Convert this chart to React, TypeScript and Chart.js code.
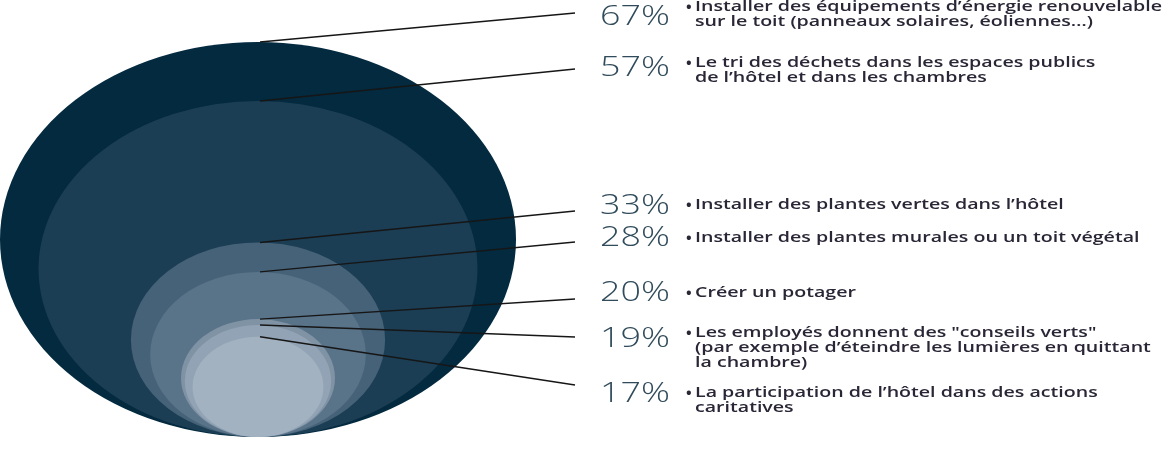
import React, { useEffect, useRef } from "react";
import { Chart, registerables } from "chart.js";

Chart.register(...registerables);

// ---- Data ----
const VALUES = [67, 57, 33, 28, 20, 19, 17];
const DESCRIPTIONS: string[][] = [
  ["Installer des équipements d’énergie renouvelable", "sur le toit (panneaux solaires, éoliennes…)"],
  ["Le tri des déchets dans les espaces publics", "de l’hôtel et dans les chambres"],
  ["Installer des plantes vertes dans l’hôtel"],
  ["Installer des plantes murales ou un toit végétal"],
  ["Créer un potager"],
  ["Les employés donnent des \"conseils verts\"", "(par exemple d’éteindre les lumières en quittant", "la chambre)"],
  ["La participation de l’hôtel dans des actions", "caritatives"],
];
const COLORS = ["#032a3f", "#1b3e55", "#466278", "#597389", "#7f93a5", "#91a3b4", "#a3b2c1"];

// ---- Label layout (pixels) ----
const PCT_BASELINE = [25, 76, 214, 246, 301, 347, 402];
const TEXT_BASELINE = [11, 67, 209, 242, 297, 337, 397];
const LEADER_END_Y = [13, 69, 211, 242, 299, 337, 385];
const LEADER_END_X = 575;
const PCT_X = 600;
const BULLET_X = 686;
const TEXT_X = 695;
const LINE_H = 15;

const nestedPlugin = {
  id: "nestedEllipses",
  beforeDatasetsDraw(chart: any) {
    const { ctx, scales } = chart;
    const xs = scales.x, ys = scales.y;
    const pts = chart.data.datasets[0].data as any[];
    ctx.save();
    pts.forEach((p, i) => {
      const cx = xs.getPixelForValue(p.x);
      const cy = ys.getPixelForValue(p.y);
      const rx = Math.abs(xs.getPixelForValue(p.x + p.v) - cx);
      const ry = Math.abs(ys.getPixelForValue(p.y + p.v) - cy);
      ctx.fillStyle = COLORS[i];
      ctx.beginPath();
      ctx.ellipse(cx, cy, rx, ry, 0, 0, Math.PI * 2);
      ctx.fill();
    });
    ctx.restore();
  },
  afterDatasetsDraw(chart: any) {
    const { ctx, scales } = chart;
    const xs = scales.x, ys = scales.y;
    const pts = chart.data.datasets[0].data as any[];
    ctx.save();
    // leader lines
    ctx.strokeStyle = "#161616";
    ctx.lineWidth = 1.4;
    pts.forEach((p, i) => {
      const sx = xs.getPixelForValue(p.x) + 2;
      const sy = ys.getPixelForValue(p.y + p.v);
      ctx.beginPath();
      ctx.moveTo(sx, sy);
      ctx.lineTo(LEADER_END_X, LEADER_END_Y[i]);
      ctx.stroke();
    });
    // percentages
    ctx.font = "300 27px 'Open Sans'";
    ctx.textBaseline = "alphabetic";
    ctx.fillStyle = "#304b5b";
    const pctStretch = 70 / ctx.measureText("67%").width;
    pts.forEach((p, i) => {
      ctx.save();
      ctx.translate(PCT_X, PCT_BASELINE[i]);
      ctx.scale(pctStretch, 1);
      ctx.fillText(p.v + "%", 0, 0);
      ctx.restore();
    });
    // descriptions
    ctx.fillStyle = "#2a2636";
    ctx.font = "700 15px 'Open Sans'";
    pts.forEach((p, i) => {
      ctx.fillText("•", BULLET_X, TEXT_BASELINE[i] + 1);
    });
    ctx.font = "600 15px 'Open Sans'";
    const descStretch = 467 / ctx.measureText(DESCRIPTIONS[0][0]).width;
    pts.forEach((p, i) => {
      DESCRIPTIONS[i].forEach((line, j) => {
        ctx.save();
        ctx.translate(TEXT_X, TEXT_BASELINE[i] + j * LINE_H);
        ctx.scale(descStretch, 1);
        ctx.fillText(line, 0, 0);
        ctx.restore();
      });
    });
    ctx.restore();
  },
};

export default function App() {
  const ref = useRef<HTMLCanvasElement | null>(null);
  useEffect(() => {
    document.body.style.margin = "0";
    const maxV = Math.max(...VALUES);
    const chart = new Chart(ref.current!, {
      type: "scatter",
      data: {
        datasets: [
          {
            data: VALUES.map((v) => ({ x: 0, y: v, v })) as any,
            pointRadius: 0,
            pointHoverRadius: 0,
          },
        ],
      },
      options: {
        responsive: false,
        animation: false,
        events: [],
        layout: { padding: { left: 0, right: 650, top: 42, bottom: 16 } },
        plugins: { legend: { display: false }, tooltip: { enabled: false } },
        scales: {
          x: { type: "linear", display: false, min: -maxV, max: maxV },
          y: { type: "linear", display: false, min: 0, max: 2 * maxV },
        },
      },
      plugins: [nestedPlugin],
    });
    return () => chart.destroy();
  }, []);
  return (
    <div style={{ width: 1166, height: 453, background: "#fff" }}>
      <canvas ref={ref} width={1166} height={453} style={{ display: "block" }} />
    </div>
  );
}
